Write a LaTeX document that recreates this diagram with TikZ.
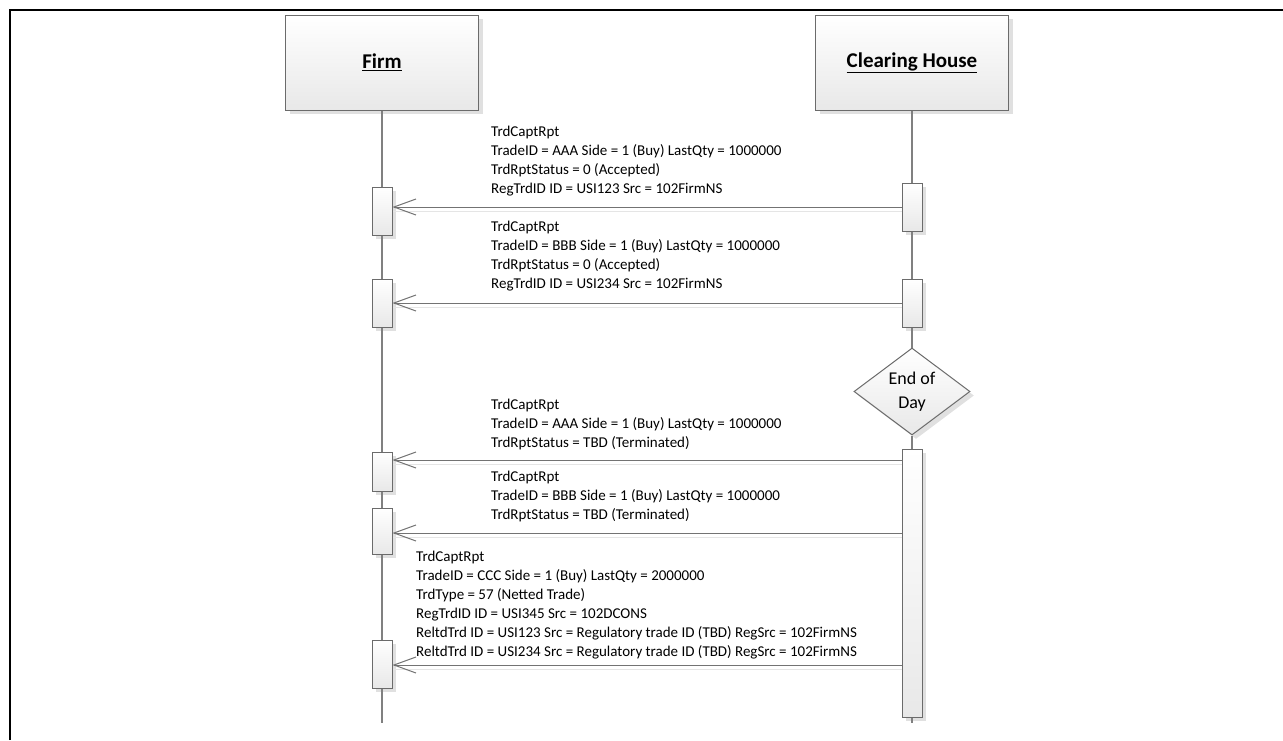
\documentclass[tikz,border=0pt]{standalone}
\usepackage{fontspec}
\setmainfont{Carlito}
\usetikzlibrary{arrows.meta,shapes.geometric,shadows}
\begin{document}
\begin{tikzpicture}[x=1pt,y=-1pt,
  boxline/.style={draw=black!58, line width=1pt},
  shade/.style={top color=white, bottom color=black!9},
  sh/.style={drop shadow={shadow xshift=4pt,shadow yshift=-4pt,fill=black,opacity=0.12}},
  actor/.style={boxline, shade, sh, minimum width=193pt, minimum height=95pt, inner sep=0pt,
    font=\fontsize{21}{25}\selectfont\bfseries},
  act/.style={boxline, shade, sh, minimum width=20pt, inner sep=0pt},
  life/.style={draw=black!50, line width=1.3pt},
  msg/.style={draw=black!55, line width=1pt, -{Straight Barb[length=22pt,width=16pt]}},
  msgsh/.style={draw=black!10, line width=1pt},
  lbl/.style={anchor=base west, align=left, inner sep=0pt, font=\fontsize{15}{19}\selectfont},
  eodstyle/.style={diamond, boxline, shade, sh, shape aspect=1.33, minimum width=116pt,
    minimum height=87pt, inner sep=0pt, align=center, font=\fontsize{18}{24}\selectfont}
]
\useasboundingbox (0,0) rectangle (1283,740);
\fill[white] (0,0) rectangle (1283,740);
\draw[line width=2pt] (10,740) -- (10,10) -- (1283,10);

% actors
\coordinate (fend) at (382,723);
\coordinate (cend) at (912,723);
\node[actor] (firm) at (382,62.5) {\underline{Firm}};
\node[actor] (ch) at (912,62.5) {\underline{Clearing House}};

% activations
\node[act, minimum height=48pt] (f1) at (382,211) {};
\node[act, minimum height=48pt] (f2) at (382,303) {};
\node[act, minimum height=39pt] (f3) at (382,471.5) {};
\node[act, minimum height=46pt] (f4) at (382,531) {};
\node[act, minimum height=48pt] (f5) at (382,664) {};
\node[act, minimum height=48pt] (c1) at (912,207) {};
\node[act, minimum height=48pt] (c2) at (912,303) {};
\node[act, minimum height=268pt] (c3) at (912,583) {};
\node[eodstyle] (eod) at (912,391.5) {End of\\Day};

% lifelines
\draw[life] (firm.south) -- (f1.north);
\draw[life] (f1.south) -- (f2.north);
\draw[life] (f2.south) -- (f3.north);
\draw[life] (f3.south) -- (f4.north);
\draw[life] (f4.south) -- (f5.north);
\draw[life] (f5.south) -- (fend);
\draw[life] (ch.south) -- (c1.north);
\draw[life] (c1.south) -- (c2.north);
\draw[life] (c2.south) -- (eod.north);
\draw[life] (eod.south) -- (c3.north);
\draw[life] (c3.south) -- (cend);

% messages
\coordinate (a3) at (902,460);
\coordinate (a4) at (902,533);
\coordinate (a5) at (902,665);
\draw[msgsh] ([yshift=-4pt]c1.west) -- ([yshift=-4pt]c1.west -| f1.east);
\draw[msgsh] ([yshift=-4pt]c2.west) -- ([yshift=-4pt]c2.west -| f2.east);
\draw[msgsh] ([yshift=-4pt]a3) -- ([yshift=-4pt]a3 -| f3.east);
\draw[msgsh] ([yshift=-4pt]a4) -- ([yshift=-4pt]a4 -| f4.east);
\draw[msgsh] ([yshift=-4pt]a5) -- ([yshift=-4pt]a5 -| f5.east);
\draw[msg] (c1.west) -- (c1.west -| f1.east);
\draw[msg] (c2.west) -- (c2.west -| f2.east);
\draw[msg] (a3) -- (a3 -| f3.east);
\draw[msg] (a4) -- (a4 -| f4.east);
\draw[msg] (a5) -- (a5 -| f5.east);

% labels (anchored at the baseline of the last line)
\node[lbl] (t1) at (491,193) {TrdCaptRpt\\TradeID = AAA Side = 1 (Buy) LastQty = 1000000\\TrdRptStatus = 0 (Accepted)\\RegTrdID ID = USI123 Src = 102FirmNS};
\node[lbl] (t2) at (491,288) {TrdCaptRpt\\TradeID = BBB Side = 1 (Buy) LastQty = 1000000\\TrdRptStatus = 0 (Accepted)\\RegTrdID ID = USI234 Src = 102FirmNS};
\node[lbl] (t3) at (491,447) {TrdCaptRpt\\TradeID = AAA Side = 1 (Buy) LastQty = 1000000\\TrdRptStatus = TBD (Terminated)};
\node[lbl] (t4) at (491,519) {TrdCaptRpt\\TradeID = BBB Side = 1 (Buy) LastQty = 1000000\\TrdRptStatus = TBD (Terminated)};
\node[lbl] (t5) at (416,656) {TrdCaptRpt\\TradeID = CCC Side = 1 (Buy) LastQty = 2000000\\TrdType = 57 (Netted Trade)\\RegTrdID ID = USI345 Src = 102DCONS\\ReltdTrd ID = USI123 Src = Regulatory trade ID (TBD) RegSrc = 102FirmNS\\ReltdTrd ID = USI234 Src = Regulatory trade ID (TBD) RegSrc = 102FirmNS};
\end{tikzpicture}
\end{document}
